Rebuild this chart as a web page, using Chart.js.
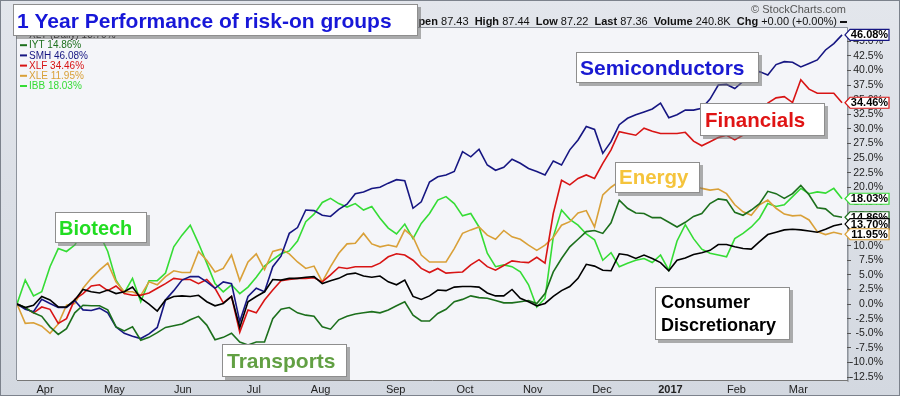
<!DOCTYPE html>
<html>
<head>
<meta charset="utf-8">
<script src="https://cdn.jsdelivr.net/npm/chart.js@4.4.1/dist/chart.umd.min.js"></script>
<style>
  html, body { margin: 0; padding: 0; background: #dde1e8; }
  #wrap { width: 900px; height: 396px; }
</style>
</head>
<body>
<div id="wrap"><canvas id="perf" width="900" height="396"></canvas></div>
<script>
// x axis: month labels and where they sit (in trading-step units, 0 = start)
const monthLabels = ['Apr', 'May', 'Jun', 'Jul', 'Aug', 'Sep', 'Oct', 'Nov', 'Dec', '2017', 'Feb', 'Mar'];
const monthPos = [3.4, 11.8, 20.1, 28.7, 36.8, 45.9, 54.3, 62.5, 70.9, 79.2, 87.2, 94.7];

// y axis ticks (percent)
const yTicks = [-12.5, -10, -7.5, -5, -2.5, 0, 2.5, 5, 7.5, 10, 12.5, 15, 17.5, 20,
    22.5, 25, 27.5, 30, 32.5, 35, 37.5, 40, 42.5, 45];

// % change since start
const xly = [0, -0.6, -0.2, 1.3, 0.7, -0.5, -0.5, 0.7, 2.5, 2.1, 1.9, 2.4, 1.8, 2.1, 2.9, 1.0, 0, -1.2, 0.7, 1.3, 1.4, 1.3, 1.5, 0.4, -0.3, 0.1,
    1.3, -4.0, 0.4, 1.3, 2.1, 4.2, 4.1, 4.4, 4.4, 4.6, 4.7, 3.5, 4.0, 4.4, 5.1, 5.3, 4.8, 4.6, 4.8, 3.8, 3.3, 4.1, 1.3, 0.8, 1.4, 2.4,
    2.3, 2.9, 3.0, 3.0, 2.9, 1.9, 1.4, 1.4, 2.5, 1.0, 0.4, -0.3, 0.1, 1.3, 2.3, 3.0, 4.4, 6.8, 6.5, 5.8, 5.7, 8.6, 8.4, 7.8, 8.4,
    7.8, 7.1, 5.7, 7.5, 7.9, 8.5, 8.8, 9.2, 10.2, 10.2, 9.8, 9.5, 9.4, 10.7, 11.9, 12.3, 12.7, 12.8, 12.7, 12.5, 12.3, 12.8, 13.4, 13.70];
const iyt = [0, -0.6, -1.5, -2.1, -3.9, -5.2, -4.2, -1.5, -0.2, -0.3, -0.3, -1.0, -3.9, -4.6, -3.9, -6.2, -5.7, -4.9, -4.0, -3.7, -3.4, -2.7, -2.1, -3.6, -6.1, -5.7,
    -5.0, -6.5, -7.0, -6.5, -6.5, -2.5, -0.9, -0.6, -1.5, -1.9, -2.1, -3.9, -4.3, -2.7, -2.1, -1.7, -1.5, -1.3, -1.5, -1.0, -0.3, 0.4, -1.9, -2.9, -2.9, -1.6,
    -0.9, 0.4, 0.8, 1.4, 1.1, 1.0, 0.6, 0.2, 0.2, 0.4, 0.6, 0.1, 1.8, 5.5, 7.8, 9.8, 11.1, 12.4, 12.6, 12.1, 13.9, 17.8, 16.4, 15.6, 15.5,
    14.8, 14.8, 14.0, 13.2, 14.0, 15.0, 15.5, 17.2, 18.0, 17.8, 15.7, 15.2, 16.1, 17.2, 19.3, 18.9, 18.1, 18.9, 20.3, 18.7, 16.5, 16.3, 15.1, 14.86];
const smh = [0, -0.9, -1.3, 0.8, 0.1, -0.6, -0.6, 0.6, -1.0, -1.1, -0.7, -1.5, -3.9, -5.0, -5.5, -5.9, -5.1, -4.0, 0.7, 2.3, 4.1, 4.7, 4.7, 3.8, 2.7, 3.8,
    3.5, -3.0, 1.3, 2.7, 2.1, 6.4, 8.2, 12.1, 13.1, 16.1, 16.0, 15.2, 15.0, 16.2, 17.1, 18.9, 19.2, 19.8, 20.0, 20.7, 21.3, 21.1, 16.4, 17.5, 20.9, 21.8,
    22.1, 22.7, 26.1, 25.2, 26.5, 23.8, 22.9, 23.4, 24.8, 24.1, 23.2, 22.7, 22.1, 24.5, 23.8, 26.4, 28.1, 30.4, 29.9, 25.8, 27.8, 30.7, 31.8, 32.4, 32.9,
    33.4, 34.4, 31.9, 32.4, 33.2, 33.2, 33.5, 35.1, 37.5, 37.6, 36.9, 38.1, 38.6, 39.8, 39.2, 41.0, 41.5, 41.4, 40.6, 41.2, 41.8, 43.5, 44.6, 46.08];
const xlf = [0, -0.7, -1.5, -0.5, -0.9, -3.3, -2.5, 0.8, 1.8, 3.1, 3.3, 2.3, 3.1, 1.8, 1.5, 1.5, 1.9, 2.7, 3.5, 4.4, 4.2, 4.2, 3.5, 4.2, 2.7, 0.2,
    1.3, -4.8, -1.0, -1.5, 0.7, 2.4, 4.0, 4.2, 4.4, 4.4, 4.5, 3.8, 5.0, 6.3, 6.1, 6.4, 6.4, 6.4, 7.0, 8.1, 8.6, 8.4, 7.5, 6.1, 5.4, 6.1,
    5.3, 5.4, 5.5, 6.7, 7.6, 6.4, 5.8, 6.6, 7.4, 7.2, 7.1, 8.0, 7.0, 15.5, 21.2, 20.4, 21.5, 22.1, 21.5, 24.1, 26.4, 29.5, 29.2, 28.9, 30.1,
    29.6, 29.2, 29.2, 29.2, 29.4, 27.9, 27.1, 27.8, 28.5, 28.9, 28.1, 28.9, 30.7, 32.4, 34.4, 35.3, 35.5, 34.5, 38.4, 36.8, 36.1, 36.1, 36.1, 34.46];
const xle = [0, -3.3, -3.2, -3.8, -5.0, -3.4, -0.2, 0.1, 2.7, 4.4, 5.8, 7.0, 3.8, 2.1, 2.1, 1.5, 3.8, 3.3, 4.7, 5.7, 5.4, 5.4, 9.0, 7.5, 5.5, 6.1,
    8.4, 4.0, 7.2, 8.6, 5.9, 9.0, 9.4, 8.6, 7.2, 6.1, 6.5, 3.8, 6.4, 8.7, 10.3, 10.4, 12.1, 10.3, 9.8, 10.1, 9.8, 12.7, 11.5, 8.4, 7.2, 7.2,
    7.2, 9.5, 12.1, 12.7, 13.2, 11.8, 11.1, 12.6, 11.5, 11.1, 10.1, 9.2, 10.1, 11.4, 13.5, 14.1, 15.6, 16.0, 13.2, 18.7, 20.0, 21.0, 20.5, 21.0, 20.2,
    20.5, 21.0, 20.0, 20.8, 19.8, 20.3, 19.8, 19.5, 19.7, 18.9, 17.0, 15.8, 15.2, 17.0, 17.8, 16.4, 15.4, 15.1, 15.2, 14.4, 12.4, 11.9, 12.3, 11.95];
const ibb = [0, 4.1, 1.4, 2.1, 6.4, 9.5, 9.0, 10.1, 12.5, 13.5, 12.0, 9.0, 4.1, 1.9, 4.4, 0.4, 4.0, 4.0, 5.3, 9.8, 11.8, 13.5, 10.4, 7.0, 3.5, 2.1,
    3.3, 1.8, 2.9, 4.6, 6.5, 7.6, 8.6, 9.1, 10.8, 14.1, 15.4, 17.4, 18.1, 17.2, 16.6, 17.2, 16.1, 16.7, 14.7, 13.0, 12.0, 13.7, 11.2, 13.8, 15.5, 17.8,
    18.4, 17.2, 15.1, 15.5, 13.2, 8.7, 6.4, 6.7, 6.4, 5.5, 3.3, -0.5, 1.0, 11.5, 16.1, 14.5, 13.5, 12.0, 11.0, 7.5, 8.8, 6.4, 7.0, 7.5, 7.8,
    7.1, 8.4, 5.8, 10.8, 13.6, 11.2, 9.4, 8.7, 8.4, 8.1, 11.2, 12.1, 13.2, 14.7, 17.2, 16.7, 17.0, 18.4, 19.8, 18.9, 19.2, 19.0, 19.8, 18.03];

const FONT = '"Liberation Sans", Arial, sans-serif';

const series = [
    { name: 'XLY (Daily)', data: xly, color: '#000000', tag: '#000000' },
    { name: 'IYT', data: iyt, color: '#1c6f1c', tag: '#1c6f1c' },
    { name: 'SMH', data: smh, color: '#161682', tag: '#161682' },
    { name: 'XLF', data: xlf, color: '#d81414', tag: '#d81414' },
    { name: 'XLE', data: xle, color: '#d9a038', tag: '#d9a038' },
    { name: 'IBB', data: ibb, color: '#35dc35', tag: '#35dc35' }
];

function toPoints(arr) {
    return arr.map((v, i) => ({ x: i, y: v }));
}

function noteBox(ctx, x, y, w, h) {
    ctx.fillStyle = 'rgba(110,110,110,0.55)';
    ctx.fillRect(x + 3, y + 3, w, h);
    ctx.fillStyle = '#ffffff';
    ctx.fillRect(x, y, w, h);
    ctx.strokeStyle = '#8e8e8e';
    ctx.lineWidth = 1;
    ctx.strokeRect(x + 0.5, y + 0.5, w - 1, h - 1);
}

function note(ctx, x, y, w, h, lines, color, size) {
    noteBox(ctx, x, y, w, h);
    ctx.fillStyle = color;
    ctx.font = 'bold ' + size + 'px ' + FONT;
    ctx.textAlign = 'left';
    ctx.textBaseline = 'alphabetic';
    lines.forEach(l => ctx.fillText(l.t, x + l.dx, y + l.dy));
}

function valueTag(ctx, y, color, text) {
    const h = 11;
    ctx.beginPath();
    ctx.moveTo(845, y);
    ctx.lineTo(850, y - h / 2);
    ctx.lineTo(889, y - h / 2);
    ctx.lineTo(889, y + h / 2);
    ctx.lineTo(850, y + h / 2);
    ctx.closePath();
    ctx.fillStyle = '#ffffff';
    ctx.fill();
    ctx.strokeStyle = color;
    ctx.lineWidth = 1.2;
    ctx.stroke();
    ctx.fillStyle = '#000';
    ctx.font = 'bold 11px ' + FONT;
    ctx.textAlign = 'center';
    ctx.textBaseline = 'middle';
    ctx.fillText(text, 869.5, y + 0.5);
}

const decor = {
    id: 'decor',
    beforeDraw(chart) {
        const ctx = chart.ctx;
        const a = chart.chartArea;
        ctx.save();
        // outer frame
        const g = ctx.createLinearGradient(0, 0, 0, 396);
        g.addColorStop(0, '#e3e6ec');
        g.addColorStop(1, '#d3d8e0');
        ctx.fillStyle = g;
        ctx.fillRect(0, 0, 900, 396);
        ctx.strokeStyle = '#7c828c';
        ctx.strokeRect(0.5, 0.5, 899, 395);
        // plot panel
        ctx.fillStyle = 'rgba(0,0,0,0.18)';
        ctx.fillRect(a.right, a.top + 2, 2, a.bottom - a.top);
        ctx.fillStyle = '#f4f5f9';
        ctx.fillRect(a.left, a.top, a.right - a.left, a.bottom - a.top);
        ctx.strokeStyle = '#8d939c';
        ctx.beginPath();
        ctx.moveTo(a.left - 0.5, a.bottom);
        ctx.lineTo(a.left - 0.5, a.top - 0.5);
        ctx.lineTo(a.right + 0.5, a.top - 0.5);
        ctx.lineTo(a.right + 0.5, a.bottom);
        ctx.stroke();
        ctx.restore();
    },
    afterDraw(chart) {
        const ctx = chart.ctx;
        const yScale = chart.scales.y;
        ctx.save();

        // copyright
        ctx.fillStyle = '#555';
        ctx.font = '11px ' + FONT;
        ctx.textAlign = 'right';
        ctx.textBaseline = 'alphabetic';
        ctx.fillText('\u00A9 StockCharts.com', 846, 13);

        // quote header
        const parts = [['Open ', 1], ['87.43  ', 0], ['High ', 1], ['87.44  ', 0], ['Low ', 1], ['87.22  ', 0],
            ['Last ', 1], ['87.36  ', 0], ['Volume ', 1], ['240.8K  ', 0], ['Chg ', 1], ['+0.00 (+0.00%)', 0]];
        let total = 0;
        parts.forEach(p => {
            ctx.font = (p[1] ? 'bold ' : '') + '11px ' + FONT;
            total += ctx.measureText(p[0]).width;
        });
        let hx = 837 - total;
        ctx.textAlign = 'left';
        ctx.fillStyle = '#111';
        parts.forEach(p => {
            ctx.font = (p[1] ? 'bold ' : '') + '11px ' + FONT;
            ctx.fillText(p[0], hx, 25);
            hx += ctx.measureText(p[0]).width;
        });
        ctx.fillRect(840, 21, 7, 2);

        // legend
        series.forEach((s, i) => {
            const y = 35 + i * 10.2;
            ctx.strokeStyle = s.color;
            ctx.lineWidth = 2;
            ctx.beginPath();
            ctx.moveTo(20, y);
            ctx.lineTo(27, y);
            ctx.stroke();
            ctx.fillStyle = s.color;
            ctx.font = '10px ' + FONT;
            ctx.textBaseline = 'middle';
            const last = s.data[s.data.length - 1];
            ctx.fillText(s.name + ' ' + last.toFixed(2) + '%', 29, y + 0.5);
        });

        // group labels
        note(ctx, 55, 212, 92, 31, [{ t: 'Biotech', dx: 4, dy: 23 }], '#22dd22', 20);
        note(ctx, 222, 344, 125, 33, [{ t: 'Transports', dx: 5, dy: 24 }], '#62a043', 21);
        note(ctx, 576, 52, 183, 31, [{ t: 'Semiconductors', dx: 4, dy: 23 }], '#1a1ad2', 21);
        note(ctx, 700, 103, 125, 33, [{ t: 'Financials', dx: 5, dy: 24 }], '#e01414', 20.5);
        note(ctx, 615, 162, 85, 31, [{ t: 'Energy', dx: 4, dy: 22 }], '#f5c43c', 20.5);
        note(ctx, 655, 287, 135, 53, [{ t: 'Consumer', dx: 6, dy: 21 }, { t: 'Discretionary', dx: 6, dy: 44 }], '#000000', 18);

        // title
        note(ctx, 13, 4, 405, 32, [{ t: '1 Year Performance of risk-on groups', dx: 4, dy: 24 }], '#1717d8', 21);

        // last-value tags on the right axis
        [2, 3, 5, 1, 0, 4].forEach(i => {
            const s = series[i];
            const last = s.data[s.data.length - 1];
            valueTag(ctx, yScale.getPixelForValue(last), s.tag, last.toFixed(2) + '%');
        });
        ctx.restore();
    }
};

new Chart(document.getElementById('perf').getContext('2d'), {
    type: 'line',
    data: {
        datasets: series.map(s => ({
            label: s.name,
            data: toPoints(s.data),
            borderColor: s.color,
            borderWidth: 1.6,
            pointRadius: 0,
            tension: 0,
            fill: false
        }))
    },
    options: {
        responsive: false,
        animation: false,
        devicePixelRatio: 1,
        layout: { padding: { left: 17, top: 28, right: 17, bottom: 0 } },
        plugins: { legend: { display: false }, tooltip: { enabled: false } },
        scales: {
            x: {
                type: 'linear',
                min: 0,
                max: 100.6,
                afterBuildTicks: s => { s.ticks = monthPos.map(v => ({ value: v })); },
                afterFit: s => { s.height = 16; },
                grid: { display: false, drawTicks: false },
                border: { display: true, color: '#777', dash: [1, 1] },
                ticks: {
                    autoSkip: false,
                    maxRotation: 0,
                    padding: 3,
                    color: '#222',
                    callback: (v, i) => monthLabels[i],
                    font: ctx => ({
                        family: FONT,
                        size: 11,
                        weight: ctx.tick && ctx.tick.label === '2017' ? 'bold' : 'normal'
                    })
                }
            },
            y: {
                position: 'right',
                min: -13.0,
                max: 47.26,
                afterBuildTicks: s => { s.ticks = yTicks.map(v => ({ value: v })); },
                afterFit: s => { s.width = 36; },
                grid: { drawOnChartArea: false, tickLength: 4, color: '#555' },
                border: { display: false },
                ticks: {
                    autoSkip: false,
                    crossAlign: 'far',
                    padding: 2,
                    color: '#222',
                    font: { family: FONT, size: 10.5 },
                    callback: v => v.toFixed(1) + '%'
                }
            }
        }
    },
    plugins: [decor]
});
</script>
</body>
</html>
